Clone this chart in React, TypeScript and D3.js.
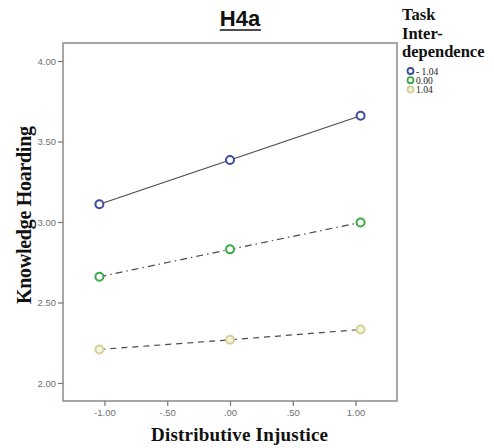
import { useEffect, useRef } from 'react';
import * as d3 from 'd3';

// values
const xLevels = [-1.04, 0, 1.04];
const groups = ['- 1.04', '0.00', '1.04'];
const lowTI = [3.11, 3.385, 3.66];
const midTI = [2.66, 2.83, 2.997];
const highTI = [2.208, 2.268, 2.332];
const xTicks = [-1, -0.5, 0, 0.5, 1];
const yTicks = [2, 2.5, 3, 3.5, 4];

const seriesStyle = [
  { stroke: '#3a4c9c', fill: '#ffffff', dash: null },
  { stroke: '#3aaa48', fill: '#ffffff', dash: '7 4 1.5 4' },
  { stroke: '#d5cf98', fill: '#f4f3dc', dash: '6 5' },
];

const fmtTick = (v: number) => {
  const s = v.toFixed(2);
  return s.replace(/^(-?)0\./, '$1.');
};

export default function App() {
  const svgRef = useRef<SVGSVGElement | null>(null);

  useEffect(() => {
    if (!svgRef.current) return;
    const W = 494, H = 448;
    const m = { top: 43, right: 97, bottom: 47, left: 63 };
    const iW = W - m.left - m.right;
    const iH = H - m.top - m.bottom;

    const svg = d3.select(svgRef.current);
    svg.selectAll('*').remove();
    svg.attr('width', W).attr('height', H);

    svg.append('rect').attr('width', W).attr('height', H).attr('fill', '#fff');

    const x = d3.scaleLinear().domain([-1.33, 1.33]).range([0, iW]);
    const y = d3.scaleLinear().domain([1.888, 4.112]).range([iH, 0]);

    const g = svg.append('g').attr('transform', `translate(${m.left},${m.top})`);

    // ── Marco ────────────────────────────────────────────────────────────────
    g.append('rect')
      .attr('width', iW).attr('height', iH)
      .attr('fill', 'none')
      .attr('stroke', '#8a8a8a')
      .attr('stroke-width', 1.5);

    // ── Ejes ─────────────────────────────────────────────────────────────────
    const tickFont = 'Arial, "Liberation Sans", sans-serif';
    g.append('g')
      .attr('transform', `translate(0,${iH})`)
      .call(d3.axisBottom(x).tickValues(xTicks).tickSize(5).tickPadding(3).tickFormat(d => fmtTick(+d)))
      .call(ax => ax.select('.domain').remove())
      .call(ax => ax.selectAll('line').attr('stroke', '#777').attr('stroke-width', 1.2))
      .call(ax => ax.selectAll('text').attr('fill', '#707070').attr('font-size', 9.5).attr('font-family', tickFont));

    g.append('g')
      .call(d3.axisLeft(y).tickValues(yTicks).tickSize(5).tickPadding(2).tickFormat(d => (+d).toFixed(2)))
      .call(ax => ax.select('.domain').remove())
      .call(ax => ax.selectAll('line').attr('stroke', '#777').attr('stroke-width', 1.2))
      .call(ax => ax.selectAll('text').attr('fill', '#707070').attr('font-size', 9.5).attr('font-family', tickFont));

    // ── Líneas y marcadores ──────────────────────────────────────────────────
    const allSeries = [lowTI, midTI, highTI];
    const line = d3.line<number>()
      .x((_, i) => x(xLevels[i]))
      .y(d => y(d));

    allSeries.forEach((vals, si) => {
      const st = seriesStyle[si];
      const path = g.append('path')
        .datum(vals)
        .attr('fill', 'none')
        .attr('stroke', '#4a4a4a')
        .attr('stroke-width', 1.2)
        .attr('d', line);
      if (st.dash) path.attr('stroke-dasharray', st.dash);
    });

    allSeries.forEach((vals, si) => {
      const st = seriesStyle[si];
      g.selectAll(`circle.s${si}`)
        .data(vals)
        .join('circle')
        .attr('class', `s${si}`)
        .attr('cx', (_, i) => x(xLevels[i]))
        .attr('cy', d => y(d))
        .attr('r', 4)
        .attr('fill', st.fill)
        .attr('stroke', st.stroke)
        .attr('stroke-width', 2);
    });

    // ── Títulos ──────────────────────────────────────────────────────────────
    const serif = '"Liberation Serif", "Times New Roman", serif';
    const title = svg.append('text')
      .attr('x', 240).attr('y', 26)
      .attr('text-anchor', 'middle')
      .attr('font-family', 'Arial, "Liberation Sans", sans-serif')
      .attr('font-weight', 'bold')
      .attr('font-size', 22)
      .attr('fill', '#111')
      .text('H4a');
    const tb = (title.node() as SVGTextElement).getBBox();
    svg.append('line')
      .attr('x1', tb.x).attr('x2', tb.x + tb.width)
      .attr('y1', 30).attr('y2', 30)
      .attr('stroke', '#111').attr('stroke-width', 1.5);

    svg.append('text')
      .attr('transform', 'translate(31,215) rotate(-90)')
      .attr('text-anchor', 'middle')
      .attr('font-family', serif)
      .attr('font-weight', 'bold')
      .attr('font-size', 20)
      .attr('textLength', 178)
      .attr('lengthAdjust', 'spacing')
      .attr('fill', '#111')
      .text('Knowledge Hoarding');

    svg.append('text')
      .attr('x', 239.5).attr('y', 441)
      .attr('text-anchor', 'middle')
      .attr('font-family', serif)
      .attr('font-weight', 'bold')
      .attr('font-size', 19)
      .attr('textLength', 177)
      .attr('lengthAdjust', 'spacing')
      .attr('fill', '#111')
      .text('Distributive Injustice');

    // ── Leyenda ──────────────────────────────────────────────────────────────
    const leg = svg.append('g').attr('transform', 'translate(402,0)');
    ['Task', 'Inter-', 'dependence'].forEach((t, i) => {
      leg.append('text')
        .attr('x', 0).attr('y', 20 + i * 18.5)
        .attr('font-family', serif)
        .attr('font-weight', 'bold')
        .attr('font-size', 16.5)
        .attr('fill', '#111')
        .text(t);
    });
    groups.forEach((lab, i) => {
      const st = seriesStyle[i];
      leg.append('circle')
        .attr('cx', 8.5).attr('cy', 71 + i * 9.2)
        .attr('r', 3)
        .attr('fill', st.fill)
        .attr('stroke', st.stroke)
        .attr('stroke-width', 1.8);
      leg.append('text')
        .attr('x', 14).attr('y', 74.5 + i * 9.2)
        .attr('font-family', serif)
        .attr('font-size', 9.5)
        .attr('fill', '#222')
        .text(lab);
    });
  }, []);

  return (
    <svg ref={svgRef} style={{ position: 'absolute', left: 0, top: 0 }} />
  );
}
